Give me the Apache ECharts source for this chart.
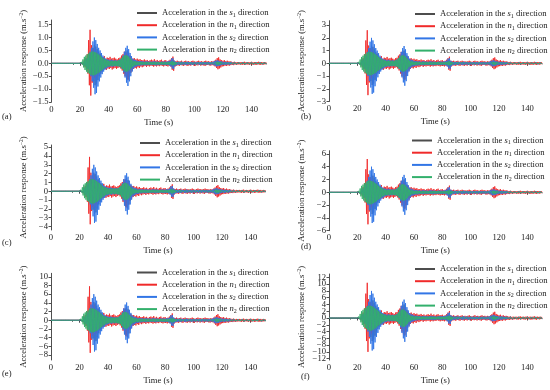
<!DOCTYPE html>
<html><head><meta charset="utf-8">
<script src="https://cdn.jsdelivr.net/npm/echarts@6/dist/echarts.min.js"></script>
<style>html,body{margin:0;padding:0;background:#fff}#c{width:550px;height:390px}</style>
</head><body><div id="c"></div>
<script>
// ---------------- DATA ----------------
// time axis: one envelope sample per second, t = 0 ... 150 s
const timeStart = 0;
const timeStep = 1;
// envelope values are in 0.01 m/s^2 for panel (a); other panels are the same record at higher input levels
const unit = 0.01;
const panelLabels = ['(a)', '(b)', '(c)', '(d)', '(e)', '(f)'];
const panelScale = [1, 2, 3, 4, 6, 8];
const xTickLabels = [0, 20, 40, 60, 80, 100, 120, 140];
const yTickLabelsA = [-1.5, -1.0, -0.5, 0.0, 0.5, 1.0, 1.5];
const yTickLabelsB = [-3, -2, -1, 0, 1, 2, 3];
const yTickLabelsC = [-4, -3, -2, -1, 0, 1, 2, 3, 4, 5];
const yTickLabelsD = [-6, -4, -2, 0, 2, 4, 6];
const yTickLabelsE = [-8, -6, -4, -2, 0, 2, 4, 6, 8, 10];
const yTickLabelsF = [-12, -10, -8, -6, -4, -2, 0, 2, 4, 6, 8, 10, 12];
const yMin = [-1.5, -3, -4.4, -6, -9.15, -12.4];
const yMax = [1.68, 3.35, 5.25, 6.5, 10.8, 13];
const seriesKeys = ['s1', 'n1', 's2', 'n2'];

// upper (Hi) and lower (Lo, magnitude) envelopes, t = 0..150 s
const s1Hi = [0,0,0,0,0,0,0,0,0,0,0,0,0,0,0,0,0,0,0,0,
  0,1,4,8,12,18,25,35,45,60, 70,65,55,45,38,30,24,18,14,12, 11,10,11,10,9,10,9,10,12,16,
  24,35,45,50,42,30,22,15,11,9, 8,7,7,6,6,5,6,6,5,5, 5,5,6,5,5,5,4,5,5,5,
  5,5,6,8,12,14,8,5,4,5, 4,4,4,3,4,4,4,3,4,3, 4,3,4,3,4,3,4,3,4,3,
  4,3,4,5,6,8,9,8,6,5, 5,4,4,4,3,4,3,2,3,2, 2,2,2,2,2,2,2,2,2,2, 2,2,2,2,2,2,2,2,2,2,2];
const s1Lo = [0,0,0,0,0,0,0,0,0,0,0,0,0,0,0,0,0,0,0,0,
  0,1,4,8,12,20,28,38,50,70, 85,80,65,50,40,32,25,20,15,12, 11,10,10,9,10,9,10,9,12,18,
  28,40,55,62,50,36,24,16,12,9, 8,7,6,7,6,6,6,5,5,5, 5,5,5,6,5,5,4,5,5,5,
  5,5,6,9,14,16,9,5,5,4, 5,4,3,4,4,4,3,4,4,4, 3,4,3,4,3,4,3,4,3,4,
  3,4,3,5,7,9,8,8,6,5, 4,5,4,3,4,3,2,3,2,2, 2,2,2,2,2,2,2,2,2,2, 2,2,2,2,2,2,2,2,2,2,2];
const n1Hi = [0,0,0,0,0,0,0,0,0,0,0,0,0,0,0,0,0,0,0,0,
  0,2,8,15,20,35,90,130,70,55, 60,45,40,35,30,25,22,28,18,22, 20,25,18,20,22,18,15,20,22,30,
  35,45,40,35,30,25,22,18,20,15, 18,14,16,12,12,15,11,13,9,12, 14,11,16,10,13,9,12,14,9,11,
  12,8,10,14,20,26,10,8,10,7, 8,10,6,8,10,7,8,6,8,10, 7,6,8,10,7,8,6,8,10,7,
  8,6,8,7,10,14,20,23,15,12, 10,12,8,10,7,8,6,5,6,4, 5,4,5,4,5,6,4,5,4,5, 6,4,5,4,5,6,4,5,4,5,4];
const n1Lo = [0,0,0,0,0,0,0,0,0,0,0,0,0,0,0,0,0,0,0,0,
  0,2,8,15,22,40,85,125,75,60, 55,50,42,38,30,28,25,22,25,20, 22,18,24,20,18,22,18,15,20,28,
  40,50,60,65,50,35,28,22,18,20, 15,18,12,15,12,10,14,10,12,9, 10,13,10,12,9,11,8,10,12,9,
  10,12,9,12,25,29,12,9,8,10, 7,8,10,7,8,10,7,9,6,8, 10,7,8,6,9,7,8,10,7,6,
  8,9,7,8,12,18,23,20,16,12, 11,9,10,8,9,7,6,7,5,6, 5,4,5,6,4,5,4,5,6,4, 5,4,6,5,4,5,6,4,5,4,3];
const s2Hi = [0,0,0,0,0,0,0,0,0,0,0,0,0,0,0,0,0,0,0,0,
  0,1,5,10,15,20,30,45,60,85, 100,90,75,60,50,40,30,22,18,15, 14,12,14,12,10,12,10,12,15,20,
  30,45,60,68,55,40,28,18,14,12, 10,8,9,7,8,6,7,8,6,7, 6,7,8,6,7,6,5,7,6,7,
  6,7,8,10,18,20,10,6,5,6, 5,6,5,4,5,6,5,4,5,4, 5,4,5,4,5,4,5,4,5,4,
  5,4,5,6,8,10,12,10,8,7, 6,5,6,5,4,5,4,3,4,3, 3,2,3,2,3,2,3,2,3,2, 3,2,3,2,3,2,3,2,3,2,2];
const s2Lo = [0,0,0,0,0,0,0,0,0,0,0,0,0,0,0,0,0,0,0,0,
  0,1,5,10,15,22,35,50,70,95, 120,115,90,70,55,42,32,25,20,16, 14,12,13,11,12,10,12,11,14,22,
  35,55,75,88,70,50,32,20,15,12, 10,9,8,8,7,7,8,6,7,6, 7,6,7,8,6,7,5,6,7,6,
  7,6,8,12,20,22,11,7,6,5, 6,5,4,5,6,5,4,5,6,5, 4,5,4,5,4,5,4,5,4,5,
  4,5,4,6,9,12,11,10,8,6, 5,6,5,4,5,4,3,4,3,3, 2,3,2,3,2,3,2,3,2,3, 2,3,2,3,2,3,2,3,2,3,2];
const n2Hi = [0,0,0,0,0,0,0,0,0,0,0,0,0,0,0,0,0,0,0,0,
  1,5,15,25,30,35,38,42,45,46, 44,42,38,34,30,25,20,16,14,12, 10,9,10,9,10,9,10,11,14,20,
  26,30,32,30,26,20,14,10,8,7, 6,5,6,5,5,4,5,5,4,5, 4,5,4,4,5,4,4,5,4,4,
  4,4,5,5,7,8,5,4,3,4, 3,4,3,3,4,3,3,4,3,3, 3,3,4,3,3,3,4,3,3,3,
  3,3,3,4,4,5,6,5,4,4, 3,3,3,3,3,3,2,2,2,2, 2,2,2,2,2,2,2,2,2,2, 2,2,2,2,2,2,2,2,2,2,2];
const n2Lo = [0,0,0,0,0,0,0,0,0,0,0,0,0,0,0,0,0,0,0,0,
  1,5,16,26,32,37,40,44,46,47, 45,42,39,35,30,26,21,17,14,12, 11,10,10,9,10,10,11,12,15,21,
  27,31,33,31,27,21,15,11,8,7, 6,6,5,5,5,5,4,5,5,4, 5,4,5,4,4,5,4,4,5,4,
  4,5,4,5,8,8,5,4,4,3, 4,3,3,4,3,3,4,3,3,3, 4,3,3,3,4,3,3,3,4,3,
  3,3,4,3,5,5,6,5,4,3, 3,3,3,3,3,2,2,2,2,2, 2,2,2,2,2,2,2,2,2,2, 2,2,2,2,2,2,2,2,2,2,2];

// ---------------- PRESENTATION ----------------
const FONT = '"Liberation Serif", "Times New Roman", serif';
const FS = 8.6;
const TXT = '#1a1a1a';
const colors = { s1: '#4d4d4d', n1: '#f02a2a', s2: '#3276e6', n2: '#33b06c' };
const envelopes = { s1: [s1Hi, s1Lo], n1: [n1Hi, n1Lo], s2: [s2Hi, s2Lo], n2: [n2Hi, n2Lo] };
const yTickSets = [yTickLabelsA, yTickLabelsB, yTickLabelsC, yTickLabelsD, yTickLabelsE, yTickLabelsF];
const legendNames = {
  s1: 'Acceleration in the {i|s}{sub|1} direction',
  n1: 'Acceleration in the {i|n}{sub|1} direction',
  s2: 'Acceleration in the {i|s}{sub|2} direction',
  n2: 'Acceleration in the {i|n}{sub|2} direction'
};
// plot boxes in pixels: [left, top, right, bottom]
const boxes = [
  [51.5, 20, 265.8, 102],
  [329, 20.7, 541.5, 101.5],
  [51, 145, 265, 230],
  [329, 150.7, 541.5, 230.7],
  [51, 273.3, 265, 360],
  [329, 274, 541.5, 360]
];
const legendPos = [[137, 8], [415, 9], [140, 138], [412, 135.5], [137, 267.5], [415, 264]];
const labelPos = [[2, 117], [301, 117], [2, 243], [301, 247], [2, 374], [301, 377]];

function zig(hi, lo, scale) {
  const out = [];
  for (let i = 0; i < hi.length; i++) {
    out.push([timeStart + i * timeStep, hi[i] * unit * scale]);
    out.push([timeStart + (i + 0.5) * timeStep, -lo[i] * unit * scale]);
  }
  return out;
}
const fmtNum = (dec) => (v) => {
  const s = Math.abs(v).toFixed(dec);
  return (v < 0 ? '\u2212' : '') + s;
};
const richLegend = {
  i: { fontStyle: 'italic', fontFamily: FONT, fontSize: FS, color: TXT, lineHeight: 10 },
  sub: { fontFamily: FONT, fontSize: 6, color: TXT, verticalAlign: 'bottom', lineHeight: 6, padding: [3, 0, 0, 0] }
};

const grid = [], xAxis = [], yAxis = [], series = [], legend = [], graphic = [];
boxes.forEach((b, p) => {
  grid.push({ left: b[0], top: b[1], width: b[2] - b[0], height: b[3] - b[1], containLabel: false });
  xAxis.push({
    gridIndex: p, type: 'value', min: 0, max: 150,
    name: 'Time (s)', nameLocation: 'middle', nameGap: 16,
    nameTextStyle: { fontFamily: FONT, fontSize: FS, color: TXT },
    axisLine: { lineStyle: { color: '#222', width: 0.8 } },
    axisTick: { length: 2.5, lineStyle: { color: '#222', width: 0.8 }, customValues: xTickLabels },
    minorTick: { show: true, splitNumber: 2, length: 1.5, lineStyle: { color: '#222', width: 0.8 } },
    axisLabel: { fontFamily: FONT, fontSize: FS, color: TXT, margin: 3, customValues: xTickLabels,
      showMinLabel: true, showMaxLabel: true },
    splitLine: { show: false }
  });
  // labels split over two overlaid left axes so dense tick labels are all kept
  const ticks = yTickSets[p];
  const even = ticks.filter((v, i) => i % 2 === 0);
  const odd = ticks.filter((v, i) => i % 2 === 1);
  [even, odd].forEach((vals, j) => {
    yAxis.push({
      gridIndex: p, type: 'value', min: yMin[p], max: yMax[p], position: 'left', offset: 0,
      name: j === 0 ? 'Acceleration response (m.s{sup|\u22122})' : '', nameLocation: 'middle', nameGap: 23,
      nameTextStyle: { fontFamily: FONT, fontSize: FS, color: TXT,
        rich: { sup: { fontFamily: FONT, fontSize: 5.5, color: TXT, verticalAlign: 'top', lineHeight: 5, padding: [0, 0, 4, 0] } } },
      axisLine: { show: j === 0, onZero: false, lineStyle: { color: '#222', width: 0.8 } },
      axisTick: { show: true, length: 2.5, lineStyle: { color: '#222', width: 0.8 }, customValues: vals },
      axisLabel: { fontFamily: FONT, fontSize: FS, color: TXT, margin: 3, customValues: vals,
        showMinLabel: true, showMaxLabel: true, hideOverlap: false,
        formatter: fmtNum(p === 0 ? 1 : 0) },
      splitLine: { show: false }
    });
  });
  seriesKeys.forEach((k) => {
    series.push({
      name: k, type: 'line', xAxisIndex: p, yAxisIndex: 2 * p,
      data: zig(envelopes[k][0], envelopes[k][1], panelScale[p]),
      showSymbol: false, symbol: 'none', silent: true, animation: false,
      lineStyle: { width: 0.9, color: colors[k] }, itemStyle: { color: colors[k] }
    });
  });
  legend.push({
    data: seriesKeys, left: legendPos[p][0], top: legendPos[p][1], orient: 'vertical',
    itemWidth: 20, itemHeight: 2, itemGap: 2.2, icon: 'rect', selectedMode: false, padding: 0,
    textStyle: { fontFamily: FONT, fontSize: FS, color: TXT, lineHeight: 10, rich: richLegend },
    formatter: (n) => legendNames[n]
  });
  graphic.push({ type: 'text', left: labelPos[p][0], top: labelPos[p][1] - 5,
    style: { text: panelLabels[p], font: FS + 'px ' + FONT, fill: TXT } });
});

const chart = echarts.init(document.getElementById('c'), null, { renderer: 'canvas' });
chart.setOption({ animation: false, backgroundColor: '#fff', grid, xAxis, yAxis, series, legend, graphic });
</script></body></html>
